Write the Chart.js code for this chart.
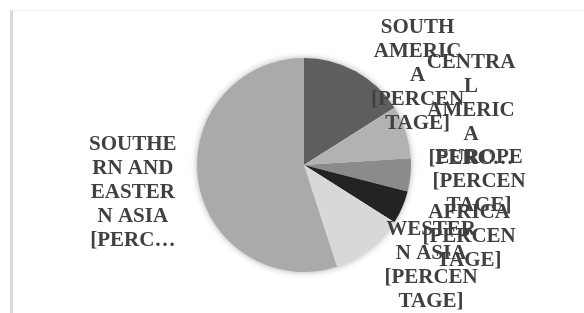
<!DOCTYPE html>
<html>
<head>
<meta charset="utf-8">
<script src="https://cdn.jsdelivr.net/npm/chart.js@4/dist/chart.umd.min.js"></script>
<style>
    html, body { margin: 0; padding: 0; background: #ffffff; }
    #wrap { position: relative; width: 584px; height: 313px; }
</style>
</head>
<body>
<div id="wrap"><canvas id="chart"></canvas></div>
<script>
'use strict';

// Regions, clockwise from the top
var categories = ['South America', 'Central America', 'Europe', 'Africa', 'Western Asia', 'Southern and Eastern Asia'];
var shares = [16, 8, 5, 5, 11, 55];
var sliceColors = ['#5e5e5e', '#b2b2b2', '#8b8b8b', '#232323', '#d8d8d8', '#aaaaaa'];
var labelSuffix = '[PERCENTAGE]';

var LABEL_FONT = 'bold 21px "Liberation Serif", "Times New Roman", serif';
var LINE_HEIGHT = 24;
var MAX_LABEL_WIDTH = 97;
var MAX_LABEL_LINES = 5;

/**
 * Wrap a label the way the office chart does: on spaces, and inside a word
 * when the word alone is wider than the box.
 */
var wrapLabel = function (ctx, text) {
    var words = text.split(' ');
    var lines = [];
    var line = '';
    words.forEach(function (word) {
        var candidate = line ? line + ' ' + word : word;
        if (ctx.measureText(candidate).width <= MAX_LABEL_WIDTH) {
            line = candidate;
            return;
        }
        if (line) {
            lines.push(line);
        }
        line = '';
        for (var i = 0; i < word.length; i++) {
            var next = line + word[i];
            if (line && ctx.measureText(next).width > MAX_LABEL_WIDTH) {
                lines.push(line);
                next = word[i];
            }
            line = next;
        }
    });
    if (line) {
        lines.push(line);
    }
    if (lines.length > MAX_LABEL_LINES) {
        lines = lines.slice(0, MAX_LABEL_LINES);
        var last = lines[MAX_LABEL_LINES - 1];
        while (last.length && ctx.measureText(last + '\u2026').width > MAX_LABEL_WIDTH) {
            last = last.slice(0, -1);
        }
        lines[MAX_LABEL_LINES - 1] = last + '\u2026';
    }
    return lines;
};

// thin frame lines of the chart area
var framePlugin = {
    id: 'frame',
    beforeDraw: function (chart) {
        var ctx = chart.ctx;
        ctx.save();
        ctx.fillStyle = '#f0f0f0';
        ctx.fillRect(10, 10, chart.width - 10, 1);
        ctx.fillStyle = '#d9d9d9';
        ctx.fillRect(10, 10, 3, chart.height - 10);
        ctx.restore();
    },
};

// soft shadow under the pie
var shadowPlugin = {
    id: 'pieShadow',
    beforeDatasetsDraw: function (chart) {
        var arc = chart.getDatasetMeta(0).data[0];
        if (!arc) {
            return;
        }
        var ctx = chart.ctx;
        ctx.save();
        ctx.shadowColor = 'rgba(0, 0, 0, 0.35)';
        ctx.shadowBlur = 7;
        ctx.fillStyle = '#ffffff';
        ctx.beginPath();
        ctx.arc(arc.x, arc.y, arc.outerRadius - 0.5, 0, Math.PI * 2);
        ctx.fill();
        ctx.restore();
    },
};

// outside data labels, clamped into the canvas
var labelPlugin = {
    id: 'outsideLabels',
    afterDatasetsDraw: function (chart) {
        var ctx = chart.ctx;
        var meta = chart.getDatasetMeta(0);
        ctx.save();
        ctx.font = LABEL_FONT;
        ctx.fillStyle = '#404040';
        ctx.textAlign = 'center';
        ctx.textBaseline = 'middle';
        meta.data.forEach(function (arc, i) {
            var text = categories[i].toUpperCase() + ' ' + labelSuffix;
            var lines = wrapLabel(ctx, text);
            var halfW = 0;
            lines.forEach(function (l) {
                halfW = Math.max(halfW, ctx.measureText(l).width / 2);
            });
            var halfH = lines.length * LINE_HEIGHT / 2;
            var mid = (arc.startAngle + arc.endAngle) / 2;
            var cos = Math.cos(mid);
            var sin = Math.sin(mid);
            var reach = Math.min(
                Math.abs(cos) > 1e-6 ? halfW / Math.abs(cos) : Infinity,
                Math.abs(sin) > 1e-6 ? halfH / Math.abs(sin) : Infinity
            );
            var dist = arc.outerRadius + 22 + reach;
            var cx = arc.x + cos * dist;
            var cy = arc.y + sin * dist;
            var clampedY = Math.max(16 + halfH, Math.min(chart.height + 1 - halfH, cy));
            // a label pushed back in vertically slides a bit outward
            cx += Math.abs(clampedY - cy) * 0.22 * Math.sign(cos);
            cy = clampedY;
            cx = Math.max(14 + halfW, Math.min(chart.width - 2 - halfW, cx));
            lines.forEach(function (l, j) {
                ctx.fillText(l, cx, cy - halfH + LINE_HEIGHT * (j + 0.5));
            });
        });
        ctx.restore();
    },
};

new Chart(document.getElementById('chart'), {
    type: 'pie',
    data: {
        labels: categories,
        datasets: [{
            data: shares,
            backgroundColor: sliceColors,
            borderWidth: 0,
        }],
    },
    options: {
        responsive: true,
        maintainAspectRatio: false,
        animation: false,
        layout: {
            padding: {left: 120, right: 96, top: 58, bottom: 41},
        },
        plugins: {
            legend: {display: false},
            tooltip: {enabled: false},
        },
    },
    plugins: [framePlugin, shadowPlugin, labelPlugin],
});
</script>
</body>
</html>
